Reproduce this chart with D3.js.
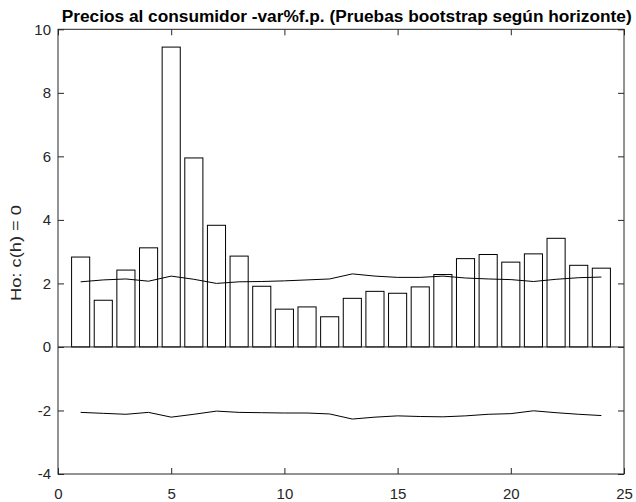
<!DOCTYPE html>
<html><head><meta charset="utf-8">
<script src="https://cdn.jsdelivr.net/npm/d3@7"></script>
<style>
html,body{margin:0;padding:0;background:#fff;}
svg{display:block;}
text{font-family:"Liberation Sans",Arial,Helvetica,sans-serif;}
</style></head>
<body><svg id="c" width="636" height="502"></svg>
<script>
const horizons = [1,2,3,4,5,6,7,8,9,10,11,12,13,14,15,16,17,18,19,20,21,22,23,24];
const statValues = [2.83,1.47,2.42,3.12,9.44,5.95,3.83,2.86,1.91,1.19,1.26,0.95,1.53,1.75,1.69,1.89,2.28,2.78,2.91,2.67,2.93,3.42,2.57,2.48];
const upperBand = [2.05,2.11,2.14,2.07,2.23,2.13,2.00,2.05,2.06,2.08,2.11,2.14,2.30,2.23,2.19,2.19,2.23,2.17,2.14,2.12,2.06,2.13,2.18,2.20];
const lowerBand = [-2.06,-2.09,-2.12,-2.06,-2.21,-2.12,-2.02,-2.06,-2.07,-2.08,-2.08,-2.11,-2.27,-2.21,-2.17,-2.19,-2.20,-2.17,-2.12,-2.10,-2.01,-2.07,-2.12,-2.16];
const xTicks = [0,5,10,15,20,25];
const yTicks = [-4,-2,0,2,4,6,8,10];
const titleText = "Precios al consumidor -var%f.p. (Pruebas bootstrap según horizonte)";
const yLabelText = "Ho: c(h) = 0";

const L = 58, R = 624, T = 29.3, B = 474;
const svg = d3.select("#c");
const x = d3.scaleLinear().domain([0,25]).range([L,R]);
const y = d3.scaleLinear().domain([-4,10]).range([B,T]);
const axisColor = "#262626";
const fmt = (d) => String(d);

// bars
svg.append("g").selectAll("rect").data(horizons).join("rect")
  .attr("x", (h) => x(h-0.4))
  .attr("width", (h) => x(h+0.4)-x(h-0.4))
  .attr("y", (h,i) => y(Math.max(0,statValues[i])))
  .attr("height", (h,i) => Math.abs(y(statValues[i])-y(0)))
  .attr("fill","#fff").attr("stroke","#000").attr("stroke-width",1);

// baseline
svg.append("line").attr("x1",x(0)).attr("x2",x(25)).attr("y1",y(0)).attr("y2",y(0))
  .attr("stroke",axisColor).attr("stroke-width",1);

const line = d3.line().x((d,i)=>x(horizons[i])).y(d=>y(d));
svg.append("path").datum(upperBand).attr("d",line).attr("fill","none").attr("stroke","#000").attr("stroke-width",1);
svg.append("path").datum(lowerBand).attr("d",line).attr("fill","none").attr("stroke","#000").attr("stroke-width",1);

function styleAxis(g, showText){
  g.select(".domain").remove();
  g.selectAll("line").attr("stroke",axisColor);
  g.selectAll("text").attr("fill",axisColor).style("font-size","15px").style("font-family",'"Liberation Sans",Arial,sans-serif');
  if(!showText) g.selectAll("text").remove();
}
svg.append("g").attr("transform",`translate(0,${B})`)
  .call(d3.axisBottom(x).tickValues(xTicks).tickSize(-6).tickPadding(14).tickFormat(fmt))
  .call(g=>styleAxis(g,true));
svg.append("g").attr("transform",`translate(0,${T})`)
  .call(d3.axisTop(x).tickValues(xTicks).tickSize(-6).tickFormat(""))
  .call(g=>styleAxis(g,false));
svg.append("g").attr("transform",`translate(${L},0)`)
  .call(d3.axisLeft(y).tickValues(yTicks).tickSize(-6).tickPadding(7).tickFormat(fmt))
  .call(g=>styleAxis(g,true));
svg.append("g").attr("transform",`translate(${R},0)`)
  .call(d3.axisRight(y).tickValues(yTicks).tickSize(-6).tickFormat(""))
  .call(g=>styleAxis(g,false));

// box
svg.append("rect").attr("x",L).attr("y",T).attr("width",R-L).attr("height",B-T)
  .attr("fill","none").attr("stroke",axisColor).attr("stroke-width",1);

// title
svg.append("text").attr("x",61.7).attr("y",21.5).attr("text-anchor","start")
  .attr("textLength",570).attr("lengthAdjust","spacingAndGlyphs")
  .style("font-size","16px").style("font-weight","bold").attr("fill","#000").text(titleText);

// y label
svg.append("text").attr("transform","translate(20.5,253) rotate(-90)")
  .attr("text-anchor","middle").attr("textLength",96).attr("lengthAdjust","spacingAndGlyphs")
  .style("font-size","15px").attr("fill",axisColor).text(yLabelText);
</script></body></html>
